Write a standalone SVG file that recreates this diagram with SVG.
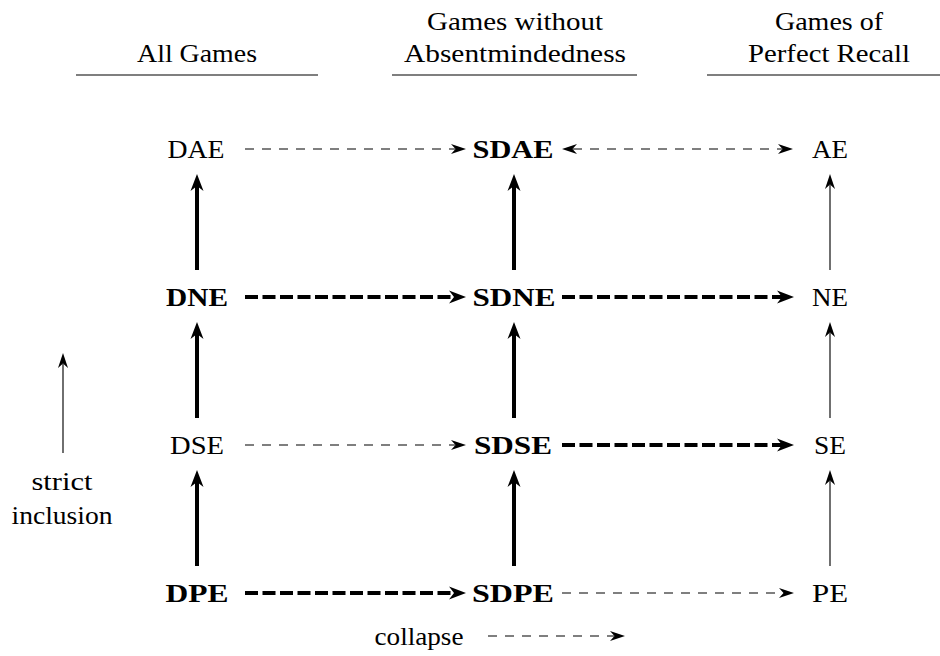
<svg xmlns="http://www.w3.org/2000/svg" width="940" height="656" viewBox="0 0 940 656">
<style>
text{font-family:'Liberation Serif','Times New Roman',serif;font-size:26px;fill:#000;text-anchor:middle}
.b{font-weight:bold}
.hl{stroke:#555;stroke-width:1.6}
.tv{stroke:#222;stroke-width:1.3;fill:none}
.kv{stroke:#000;stroke-width:4;fill:none}
.td{stroke:#555;stroke-width:1.3;stroke-dasharray:9 8;fill:none}
.kd{stroke:#000;stroke-width:4;stroke-dasharray:13 4.5;fill:none}
</style>
<defs>
<marker id="at" markerUnits="userSpaceOnUse" markerWidth="20" markerHeight="14" viewBox="0 -7 20 14" refX="4" refY="0" orient="auto-start-reverse">
<path d="M15,0 L0,-5 L4.5,0 L0,5 z" fill="#000"/>
</marker>
<marker id="ak" markerUnits="userSpaceOnUse" markerWidth="20" markerHeight="16" viewBox="0 -8 20 16" refX="5" refY="0" orient="auto-start-reverse">
<path d="M17,0 L0,-6.5 L5,0 L0,6.5 z" fill="#000"/>
</marker>
</defs>
<rect width="940" height="656" fill="#fff"/>
<g id="headers" font-family="Liberation Serif">
<text x="197" y="62" textLength="120" lengthAdjust="spacingAndGlyphs">All Games</text>
<text x="515" y="30" textLength="176" lengthAdjust="spacingAndGlyphs">Games without</text>
<text x="515" y="62" textLength="222" lengthAdjust="spacingAndGlyphs">Absentmindedness</text>
<text x="829" y="30" textLength="108" lengthAdjust="spacingAndGlyphs">Games of</text>
<text x="829" y="62" textLength="162" lengthAdjust="spacingAndGlyphs">Perfect Recall</text>
<line class="hl" x1="76" y1="75" x2="318" y2="75"/>
<line class="hl" x1="392" y1="75" x2="637" y2="75"/>
<line class="hl" x1="707" y1="75" x2="940" y2="75"/>
</g>
<g id="connectors">
<line class="kv" x1="197" y1="270" x2="197" y2="186" marker-end="url(#ak)"/>
<line class="kv" x1="197" y1="418" x2="197" y2="334" marker-end="url(#ak)"/>
<line class="kv" x1="197" y1="566" x2="197" y2="482" marker-end="url(#ak)"/>
<line class="kv" x1="514" y1="270" x2="514" y2="186" marker-end="url(#ak)"/>
<line class="kv" x1="514" y1="418" x2="514" y2="334" marker-end="url(#ak)"/>
<line class="kv" x1="514" y1="566" x2="514" y2="482" marker-end="url(#ak)"/>
<line class="tv" x1="830" y1="270" x2="830" y2="185" marker-end="url(#at)"/>
<line class="tv" x1="830" y1="418" x2="830" y2="333" marker-end="url(#at)"/>
<line class="tv" x1="830" y1="566" x2="830" y2="481" marker-end="url(#at)"/>
<line class="td" x1="245" y1="149" x2="455" y2="149" marker-end="url(#at)"/>
<line class="td" x1="573" y1="149" x2="782" y2="149" marker-start="url(#at)" marker-end="url(#at)"/>
<line class="kd" x1="245" y1="297" x2="454" y2="297" marker-end="url(#ak)"/>
<line class="kd" x1="562" y1="297" x2="782" y2="297" marker-end="url(#ak)"/>
<line class="td" x1="245" y1="445" x2="455" y2="445" marker-end="url(#at)"/>
<line class="kd" x1="562" y1="445" x2="782" y2="445" marker-end="url(#ak)"/>
<line class="kd" x1="245" y1="593" x2="454" y2="593" marker-end="url(#ak)"/>
<line class="td" x1="562" y1="593" x2="783" y2="593" marker-end="url(#at)"/>
</g>
<g id="DAE"><text x="196" y="158" textLength="57" lengthAdjust="spacingAndGlyphs">DAE</text></g>
<g id="SDAE"><text class="b" x="513" y="158" textLength="81" lengthAdjust="spacingAndGlyphs">SDAE</text></g>
<g id="AE"><text x="830" y="158" textLength="36" lengthAdjust="spacingAndGlyphs">AE</text></g>
<g id="DNE"><text class="b" x="197" y="306" textLength="62" lengthAdjust="spacingAndGlyphs">DNE</text></g>
<g id="SDNE"><text class="b" x="514" y="306" textLength="83" lengthAdjust="spacingAndGlyphs">SDNE</text></g>
<g id="NE"><text x="830" y="306" textLength="36" lengthAdjust="spacingAndGlyphs">NE</text></g>
<g id="DSE"><text x="197" y="454" textLength="54" lengthAdjust="spacingAndGlyphs">DSE</text></g>
<g id="SDSE"><text class="b" x="513" y="454" textLength="78" lengthAdjust="spacingAndGlyphs">SDSE</text></g>
<g id="SE"><text x="830" y="454" textLength="32" lengthAdjust="spacingAndGlyphs">SE</text></g>
<g id="DPE"><text class="b" x="197" y="602" textLength="63" lengthAdjust="spacingAndGlyphs">DPE</text></g>
<g id="SDPE"><text class="b" x="513" y="602" textLength="82" lengthAdjust="spacingAndGlyphs">SDPE</text></g>
<g id="PE"><text x="830" y="602" textLength="36" lengthAdjust="spacingAndGlyphs">PE</text></g>
<g id="legend-inclusion">
<line class="tv" x1="63" y1="453" x2="63" y2="364" marker-end="url(#at)"/>
<text x="62" y="490" textLength="61" lengthAdjust="spacingAndGlyphs">strict</text>
<text x="62" y="524" textLength="101" lengthAdjust="spacingAndGlyphs">inclusion</text>
</g>
<g id="legend-collapse">
<text x="419" y="645" textLength="89" lengthAdjust="spacingAndGlyphs">collapse</text>
<line class="td" x1="488" y1="636" x2="614" y2="636" marker-end="url(#at)"/>
</g>
</svg>
